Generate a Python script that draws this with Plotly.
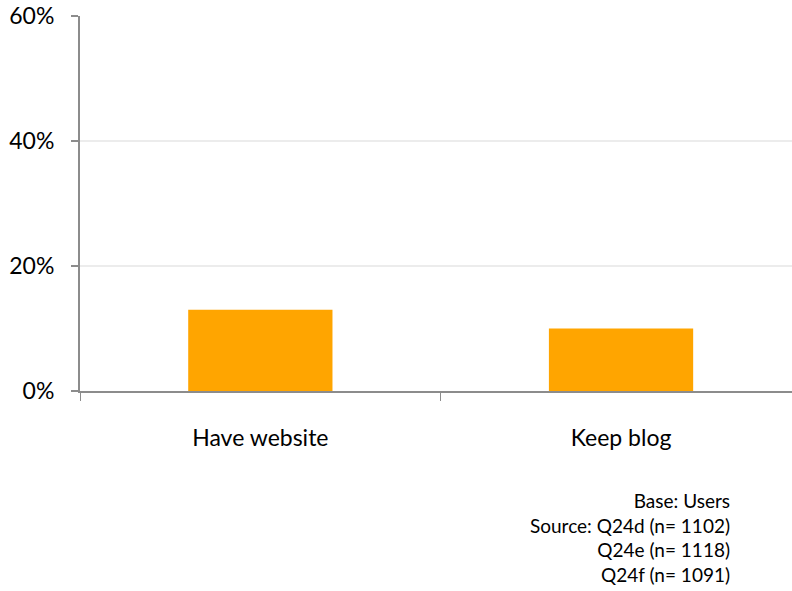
import plotly.graph_objects as go

categories = ["Have website", "Keep blog"]
shares = [0.13, 0.10]
y_ticks = [0, 0.2, 0.4, 0.6]
y_tick_labels = ["0%", "20%", "40%", "60%"]
footnote_lines = ["Base: Users", "Source: Q24d (n= 1102)", "Q24e (n= 1118)", "Q24f (n= 1091)"]

FONT = "Lato, 'Open Sans', sans-serif"
AXIS = "#8c8c8c"

fig = go.Figure(
    go.Bar(
        x=categories,
        y=shares,
        width=0.4,
        marker=dict(color="#FFA500", line=dict(width=0)),
        hoverinfo="skip",
    )
)

fig.update_layout(
    width=792,
    height=591,
    margin=dict(l=80, r=0, t=16, b=200, pad=0),
    paper_bgcolor="white",
    plot_bgcolor="white",
    showlegend=False,
    font=dict(family=FONT, color="#000000", size=23),
    bargap=0.6,
)

fig.update_xaxes(
    type="category",
    range=[-0.5, 1.474],
    showline=True,
    linecolor=AXIS,
    linewidth=2,
    showgrid=False,
    ticks="outside",
    tickson="boundaries",
    ticklen=8,
    tickcolor=AXIS,
    tickwidth=1,
    ticklabelstandoff=25,
    tickfont=dict(family=FONT, size=23, color="#000000"),
    zeroline=False,
)

fig.update_yaxes(
    range=[0, 0.6],
    tickvals=y_ticks,
    ticktext=y_tick_labels,
    showline=True,
    linecolor=AXIS,
    linewidth=2,
    showgrid=True,
    gridcolor="#ececec",
    gridwidth=1.5,
    ticks="outside",
    ticklen=7,
    tickcolor=AXIS,
    tickwidth=1.5,
    ticklabelstandoff=12,
    tickfont=dict(family=FONT, size=23, color="#000000"),
    zeroline=False,
)

fig.add_annotation(
    text="<br>".join(footnote_lines),
    xref="paper",
    yref="paper",
    x=(732 - 80) / 712,
    y=-0.255,
    xanchor="right",
    yanchor="top",
    align="right",
    showarrow=False,
    font=dict(family=FONT, size=19, color="#000000"),
)

fig.write_html("out.html")
